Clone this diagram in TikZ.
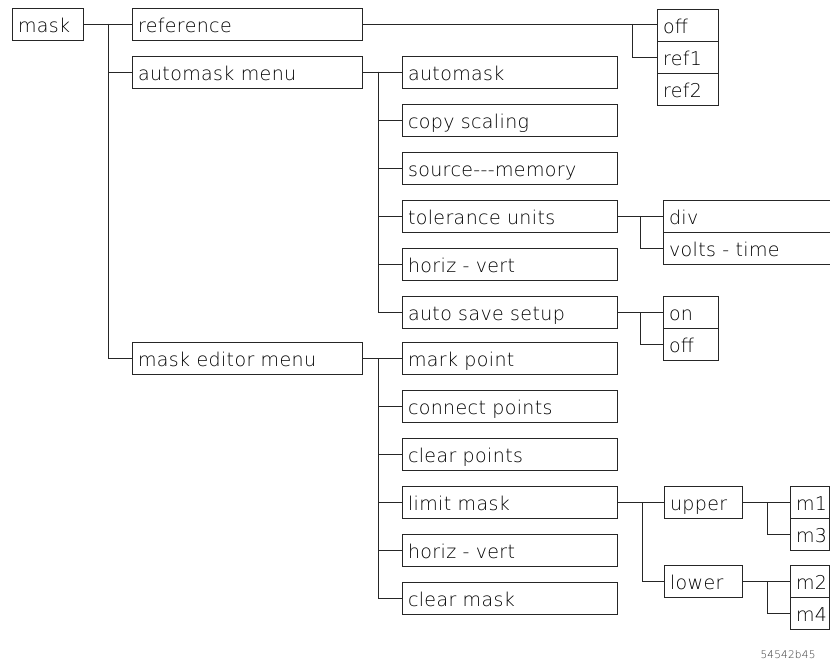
\documentclass[tikz,border=0pt]{standalone}
\usepackage{fontspec}
\newfontfamily\plotfont[LetterSpace=2]{DejaVu Sans ExtraLight}
\begin{document}
\begin{tikzpicture}[x=1pt,y=-1pt,line width=0.7pt,
  mbox/.style={draw=black!85, rectangle, outer sep=0pt, inner xsep=6pt, inner ysep=0pt,
    minimum height=32pt, text height=21pt, text depth=4pt, anchor=west, align=left,
    font=\plotfont\fontsize{19}{21}\selectfont},
  conn/.style={draw=black!85, line width=0.7pt}]
\useasboundingbox (0,0) rectangle (830,663);
% level 0/1
\node[mbox, text width=59pt] (mask) at (12,24) {mask};
\node[mbox, text width=218pt] (reference) at (132,24) {reference};
\node[mbox, text width=218pt] (amenu) at (132,72) {automask menu};
\node[mbox, text width=218pt] (emenu) at (132,358) {mask editor menu};
% reference choices
\node[mbox, text width=49pt] (off) at (657,25) {off};
\node[mbox, text width=49pt] (ref1) at (657,57) {ref1};
\node[mbox, text width=49pt] (ref2) at (657,89) {ref2};
% automask column
\node[mbox, text width=203pt] (amask) at (402,72) {automask};
\node[mbox, text width=203pt] (copy) at (402,120) {copy scaling};
\node[mbox, text width=203pt] (source) at (402,168) {source---memory};
\node[mbox, text width=203pt] (tol) at (402,216) {tolerance units};
\node[mbox, text width=203pt] (hvone) at (402,264) {horiz - vert};
\node[mbox, text width=203pt] (asave) at (402,312) {auto save setup};
\node[mbox, text width=175pt] (div) at (663,216) {div};
\node[mbox, text width=175pt] (volts) at (663,248) {volts - time};
\node[mbox, text width=43pt] (on) at (663,312) {on};
\node[mbox, text width=43pt] (offtwo) at (663,344) {off};
% mask editor column
\node[mbox, text width=203pt] (mark) at (402,358) {mark point};
\node[mbox, text width=203pt] (connect) at (402,406) {connect points};
\node[mbox, text width=203pt] (clearp) at (402,454) {clear points};
\node[mbox, text width=203pt] (limit) at (402,502) {limit mask};
\node[mbox, text width=203pt] (hvtwo) at (402,550) {horiz - vert};
\node[mbox, text width=203pt] (clearm) at (402,598) {clear mask};
\node[mbox, text width=66pt] (upper) at (664,502) {upper};
\node[mbox, text width=66pt] (lower) at (664,581) {lower};
\node[mbox, text width=27pt] (mone) at (790,502) {m1};
\node[mbox, text width=27pt] (mthree) at (790,534) {m3};
\node[mbox, text width=27pt] (mtwo) at (790,581) {m2};
\node[mbox, text width=27pt] (mfour) at (790,613) {m4};
% footer
\node[font=\plotfont\fontsize{10.5}{12}\selectfont, text=black!80] (figno) at (788,655) {54542b45};
% trunk coordinates
\coordinate (ta) at (108,0);
\coordinate (tb) at (632,0);
\coordinate (tc) at (378,0);
\coordinate (td) at (640,0);
\coordinate (te) at (642,0);
\coordinate (tf) at (767,0);
% connectors
\draw[conn] (mask.east) -- (reference.west);
\draw[conn] (mask.east -| ta) |- (amenu.west);
\draw[conn] (mask.east -| ta) |- (emenu.west);
\draw[conn] (reference.east) -- (reference.east -| off.west);
\draw[conn] (reference.east -| tb) |- (ref1.west);
\draw[conn] (amenu.east) -- (amask.west);
\foreach \n in {copy,source,tol,hvone,asave}
  \draw[conn] (amenu.east -| tc) |- (\n.west);
\draw[conn] (tol.east) -- (div.west);
\draw[conn] (tol.east -| td) |- (volts.west);
\draw[conn] (asave.east) -- (on.west);
\draw[conn] (asave.east -| td) |- (offtwo.west);
\draw[conn] (emenu.east) -- (mark.west);
\foreach \n in {connect,clearp,limit,hvtwo,clearm}
  \draw[conn] (emenu.east -| tc) |- (\n.west);
\draw[conn] (limit.east) -- (upper.west);
\draw[conn] (limit.east -| te) |- (lower.west);
\draw[conn] (upper.east) -- (mone.west);
\draw[conn] (upper.east -| tf) |- (mthree.west);
\draw[conn] (lower.east) -- (mtwo.west);
\draw[conn] (lower.east -| tf) |- (mfour.west);
\end{tikzpicture}
\end{document}
